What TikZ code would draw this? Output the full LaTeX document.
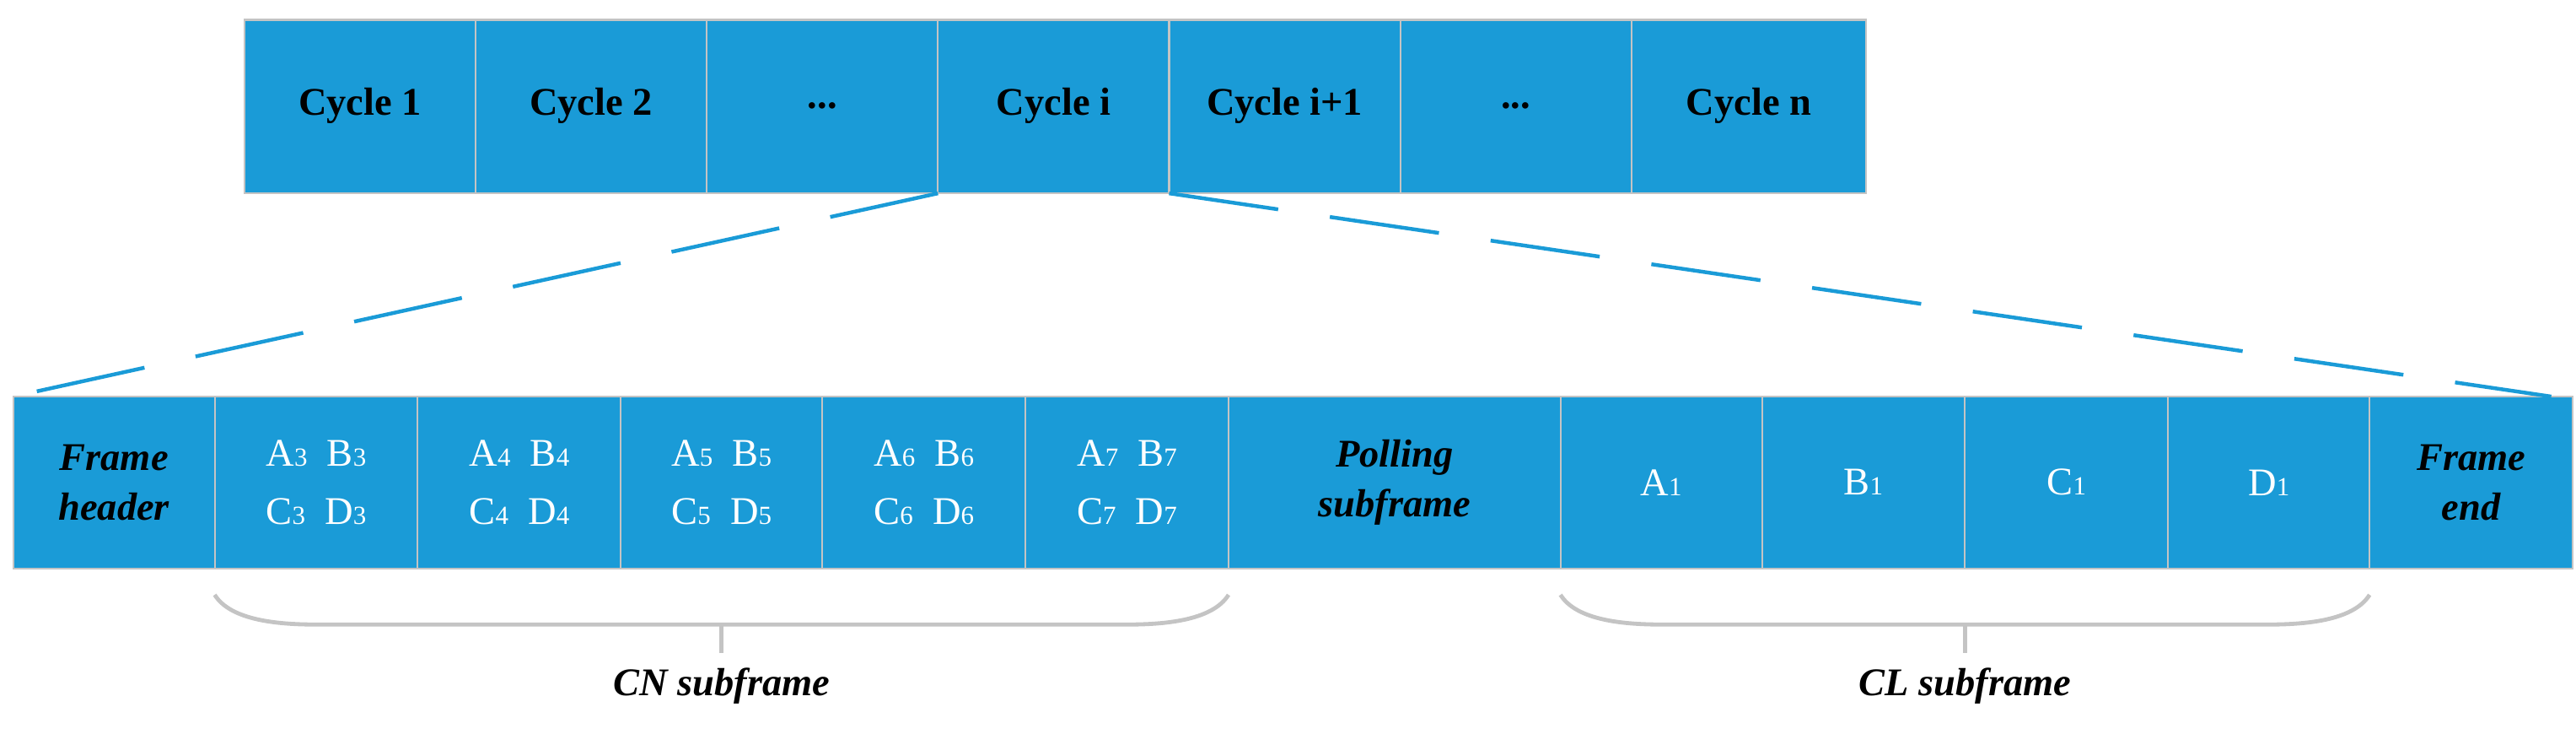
\documentclass[tikz,border=0pt]{standalone}
\usepackage{fontspec}
\setmainfont{Liberation Serif}
\definecolor{cblue}{HTML}{1A9BD7}
\definecolor{bgray}{HTML}{C4C4C4}
\newcommand{\mydots}{...}
\begin{document}
\begin{tikzpicture}[x=0.02cm,y=-0.02cm,
 cell/.style={draw=bgray,line width=0.6pt,fill=cblue,minimum height=0pt},
 ttxt/.style={font=\fontsize{13.5}{15}\selectfont\bfseries,text=black},
 btxt/.style={font=\fontsize{13.5}{17}\selectfont\bfseries\itshape,text=black,align=center},
 wtxt/.style={font=\fontsize{13.5}{20}\selectfont,text=white,align=center},
 zoomline/.style={draw=cblue,line width=1.3pt,dash pattern=on 38pt off 18pt},
 brace/.style={draw=bgray,line width=1.4pt},
 lab/.style={font=\fontsize{13.5}{15}\selectfont\bfseries\itshape}]
\newcommand{\sbs}[1]{{\fontsize{9}{9}\selectfont #1}}
\useasboundingbox (0,0) rectangle (1560,444);
% top row
\foreach \a/\b/\t [count=\i] in {148/288/Cycle 1,288/428/Cycle 2,428/568/\mydots,568/708/Cycle i,708/848/Cycle i+1,848/988/\mydots,988/1130/Cycle n}{
  \path[cell] (\a,12) rectangle (\b,117);
  \node[ttxt] (t\i) at ({(\a+\b)/2},64) {\t};
}
\coordinate (tl) at (568,117);
\coordinate (tr) at (708,117);
% bottom row
\foreach \a/\b [count=\i] in {8/130,130/253,253/376,376/498,498/621,621/744,744/945,945/1067,1067/1190,1190/1313,1313/1435,1435/1558}{
  \path[cell] (\a,240) rectangle (\b,344);
  \coordinate (c\i) at ({(\a+\b)/2},292);
}
\node[btxt] (fh) at (c1) {Frame\\header};
\foreach \k [evaluate=\k as \j using int(\k+1)] in {2,3,4,5,6}{
  \node[wtxt] (n\k) at (c\k) {A\sbs{\j}\ \ B\sbs{\j}\\C\sbs{\j}\ \ D\sbs{\j}};
}
\node[btxt] (ps) at (c7) {Polling\\subframe};
\node[wtxt] (a1) at (c8) {A\sbs{1}};
\node[wtxt] (b1) at (c9) {B\sbs{1}};
\node[wtxt] (cc1) at (c10) {C\sbs{1}};
\node[wtxt] (d1) at (c11) {D\sbs{1}};
\node[btxt] (fe) at (c12) {Frame\\end};
\coordinate (bl) at (8,240);
\coordinate (br) at (1545,240);
\draw[zoomline] (tl) -- (bl);
\draw[zoomline] (tr) -- (br);
% braces
\coordinate (b1s) at (130,360); \coordinate (b1e) at (744,360);
\draw[brace] (b1s) .. controls (140,376) and (170,378) .. (192,378) -- (682,378) .. controls (704,378) and (734,376) .. (b1e);
\draw[brace] (437,378) -- (437,395);
\coordinate (b2s) at (945,360); \coordinate (b2e) at (1435,360);
\draw[brace] (b2s) .. controls (955,376) and (985,378) .. (1007,378) -- (1373,378) .. controls (1395,378) and (1425,376) .. (b2e);
\draw[brace] (1190,378) -- (1190,395);
\node[lab] (cn) at (437,415) {CN subframe};
\node[lab] (cl) at (1190,415) {CL subframe};
\end{tikzpicture}
\end{document}
